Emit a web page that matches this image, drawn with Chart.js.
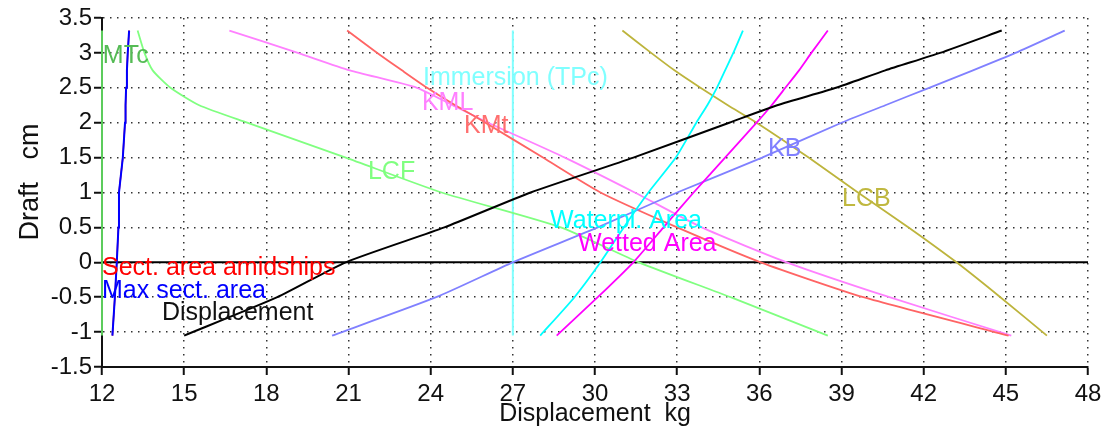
<!DOCTYPE html>
<html>
<head>
<meta charset="utf-8">
<script src="https://cdn.jsdelivr.net/npm/chart.js@4/dist/chart.umd.min.js"></script>
<style>
  html, body { margin: 0; padding: 0; background: #fff; }
  #wrap { width: 1108px; height: 434px; }
</style>
</head>
<body>
<div id="wrap"><canvas id="c" width="1108" height="434"></canvas></div>
<script>
// Hydrostatic curves: every curve is sampled at the same drafts (cm),
// the arrays below give the displacement-axis position (kg scale) of each curve.
const drafts            = [-1.05, -0.5, 0, 0.5, 1, 1.5, 2, 2.25, 2.5, 2.75, 3, 3.32];
const displacement      = [15.0, 18.4, 20.9, 24.5, 27.65, 31.4, 34.9, 36.65, 38.8, 40.6, 42.6, 44.85];
const kb                = [20.4, 24.2, 27.0, 30.1, 33.0, 36.1, 39.0, 40.6, 42.2, 43.8, 45.35, 47.15];
const lcb               = [46.5, 44.8, 43.2, 41.45, 39.6, 37.8, 35.9, 34.85, 33.85, 32.9, 32.05, 31.0];
const waterplArea       = [28.0, 29.25, 30.2, 31.05, 31.95, 32.95, 33.7, 34.1, 34.45, 34.75, 35.05, 35.4];
const wettedArea        = [28.6, 30.1, 31.4, 32.5, 33.6, 34.75, 35.9, 36.45, 36.95, 37.45, 37.9, 38.5];
const kmt               = [45.1, 39.8, 36.05, 33.0, 30.2, 28.1, 26.0, 24.9, 23.87, 22.95, 22.05, 20.95];
const kml               = [45.2, 40.75, 37.0, 33.9, 31.45, 28.9, 26.1, 24.8, 23.5, 21.05, 19.15, 16.65];
const lcf               = [38.5, 34.95, 31.6, 28.75, 24.4, 20.9, 17.3, 15.55, 14.5, 13.85, 13.55, 13.3];
const maxSectArea       = [12.38, 12.47, 12.54, 12.6, 12.62, 12.76, 12.84, 12.86, 12.88, 12.91, 12.94, 12.99];
const sectAreaAmidships = [12.38, 12.47, 12.54, 12.6, 12.62, 12.76, 12.84, 12.86, 12.88, 12.91, 12.94, 12.99];
const mtc               = [12.0, 12.0, 12.0, 12.0, 12.0, 12.0, 12.0, 12.0, 12.0, 12.0, 12.0, 12.0];
const immersionTPc      = [27.0, 27.0, 27.0, 27.0, 27.0, 27.0, 27.0, 27.0, 27.0, 27.0, 27.0, 27.0];

// Design waterline (draft 0) across the full displacement range
const waterlineX = [12, 48];

// Axis ticks
const xTicks = [12, 15, 18, 21, 24, 27, 30, 33, 36, 39, 42, 45, 48];
const yTicks = [-1.5, -1, -0.5, 0, 0.5, 1, 1.5, 2, 2.5, 3, 3.5];

const FONT = "'Liberation Sans', Arial, Helvetica, sans-serif";

function curve(xs) {
  return xs.map((x, i) => ({ x: x, y: drafts[i] }));
}

// Curves listed from bottom layer to top layer
const curves = [
  { label: 'Waterline',            data: waterlineX.map(x => ({ x: x, y: 0 })), color: '#000000', width: 2, tension: 0 },
  { label: 'Sect. area amidships', data: curve(sectAreaAmidships), color: '#ff0000', width: 1.5, tension: 0 },
  { label: 'Max sect. area',       data: curve(maxSectArea),       color: '#0000ff', width: 2, tension: 0 },
  { label: 'MTc',                  data: curve(mtc),               color: '#5ccc5c', width: 2, tension: 0 },
  { label: 'Immersion (TPc)',      data: curve(immersionTPc),      color: '#80ffff', width: 2, tension: 0 },
  { label: 'LCF',                  data: curve(lcf),               color: '#80ff80', width: 1.8 },
  { label: 'KML',                  data: curve(kml),               color: '#ff80ff', width: 1.8 },
  { label: 'KMt',                  data: curve(kmt),               color: '#ff6464', width: 1.8 },
  { label: 'LCB',                  data: curve(lcb),               color: '#bdb43c', width: 1.8 },
  { label: 'KB',                   data: curve(kb),                color: '#8080ff', width: 1.8 },
  { label: 'Wetted Area',          data: curve(wettedArea),        color: '#ff00ff', width: 1.8 },
  { label: 'Waterpl. Area',        data: curve(waterplArea),       color: '#00ffff', width: 1.8 },
  { label: 'Displacement',         data: curve(displacement),      color: '#000000', width: 2 }
];

// In-plot curve names, anchored at (displacement, draft) of their left/middle point
const curveLabels = [
  { text: 'MTc',                  x: 12.03, y: 2.955,  color: '#55bb55' },
  { text: 'Immersion (TPc)',      x: 23.72, y: 2.633,  color: '#80ffff' },
  { text: 'KML',                  x: 23.68, y: 2.275,  color: '#ff80ff' },
  { text: 'KMt',                  x: 25.22, y: 1.953,  color: '#ff6f6f' },
  { text: 'LCF',                  x: 21.71, y: 1.286,  color: '#80ff80' },
  { text: 'KB',                   x: 36.32, y: 1.623,  color: '#8080ff' },
  { text: 'LCB',                  x: 39.02, y: 0.907,  color: '#c0b840' },
  { text: 'Waterpl. Area',        x: 28.36, y: 0.592,  color: '#00ffff' },
  { text: 'Wetted Area',          x: 29.38, y: 0.262,  color: '#ff00ff' },
  { text: 'Sect. area amidships', x: 12.0,  y: -0.082, color: '#ff0000' },
  { text: 'Max sect. area',       x: 12.0,  y: -0.418, color: '#0000ff' },
  { text: 'Displacement',         x: 14.19, y: -0.734, color: '#111111' }
];

const curveLabelPlugin = {
  id: 'curveLabels',
  afterDatasetsDraw(chart) {
    const { ctx, scales: { x, y } } = chart;
    ctx.save();
    ctx.font = '25px ' + FONT;
    ctx.textAlign = 'left';
    ctx.textBaseline = 'middle';
    curveLabels.forEach(l => {
      ctx.fillStyle = l.color;
      ctx.fillText(l.text, x.getPixelForValue(l.x), y.getPixelForValue(l.y));
    });
    ctx.restore();
  }
};

const axisTitlePlugin = {
  id: 'axisTitles',
  afterDraw(chart) {
    const { ctx, chartArea } = chart;
    ctx.save();
    ctx.fillStyle = '#111';
    ctx.textAlign = 'center';
    ctx.textBaseline = 'middle';
    ctx.font = '25px ' + FONT;
    ctx.fillText('Displacement  kg', (chartArea.left + chartArea.right) / 2, 414);
    ctx.translate(31, 182);
    ctx.rotate(-Math.PI / 2);
    ctx.font = '27px ' + FONT;
    ctx.fillText('Draft   cm', 0, 0);
    ctx.restore();
  }
};

const tickFont = { family: FONT, size: 24 };

new Chart(document.getElementById('c'), {
  type: 'line',
  data: {
    datasets: curves.map((c, i) => ({
      label: c.label,
      data: c.data,
      borderColor: c.color,
      borderWidth: c.width,
      tension: c.tension === undefined ? 0.2 : c.tension,
      pointRadius: 0,
      fill: false,
      clip: false,
      order: -i
    }))
  },
  options: {
    responsive: false,
    animation: false,
    devicePixelRatio: 1,
    layout: { padding: { top: 18, right: 20, left: 0, bottom: 0 } },
    plugins: { legend: { display: false }, tooltip: { enabled: false } },
    scales: {
      x: {
        type: 'linear',
        min: 12, max: 48,
        afterBuildTicks: s => { s.ticks = xTicks.map(v => ({ value: v })); },
        afterFit: s => { s.height = 67; },
        grid: { color: '#333', lineWidth: 1.5, tickColor: '#111', tickLength: 8, tickWidth: 2 },
        border: { display: true, color: '#111', width: 2, dash: [1.5, 5.5] },
        ticks: { color: '#111', font: tickFont, padding: 5, maxRotation: 0, autoSkip: false, callback: v => String(v) }
      },
      y: {
        type: 'linear',
        min: -1.5, max: 3.5,
        afterBuildTicks: s => { s.ticks = yTicks.map(v => ({ value: v })); },
        afterFit: s => { s.width = 102; },
        grid: { color: '#333', lineWidth: 1.5, tickColor: '#111', tickLength: 8, tickWidth: 2 },
        border: { display: true, color: '#111', width: 2, dash: [1.5, 5.5] },
        ticks: { color: '#111', font: tickFont, padding: 2, autoSkip: false, callback: v => String(v) }
      }
    }
  },
  plugins: [curveLabelPlugin, axisTitlePlugin]
});
</script>
</body>
</html>
